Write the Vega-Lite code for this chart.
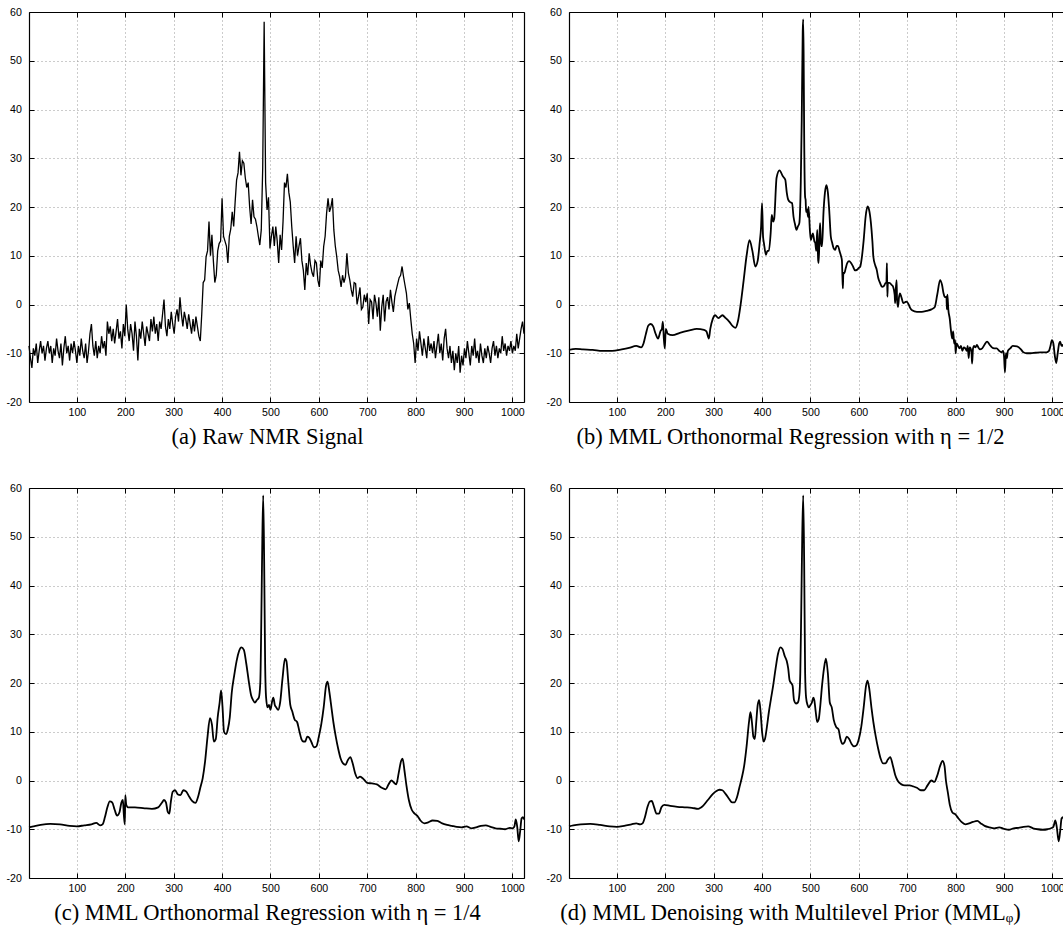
{
  "$schema": "https://vega.github.io/schema/vega-lite/v6.json",
  "background": "white",
  "padding": {"left": 6, "top": 7, "right": 0, "bottom": 0},
  "bounds": "flush",
  "columns": 2,
  "spacing": {"row": 86, "column": 45},
  "datasets": {
    "a": [
      {"x":1,"y":-8.5},{"x":4,"y":-11},{"x":7,"y":-13},{"x":10,"y":-9},{"x":13,"y":-10.5},{"x":16,"y":-8},{"x":19,"y":-12},{"x":22,"y":-9.5},{"x":25,"y":-7.5},{"x":28,"y":-10},{"x":31,"y":-8.5},{"x":34,"y":-11.5},{"x":37,"y":-9},{"x":40,"y":-7.5},{"x":43,"y":-10},{"x":46,"y":-8.5},{"x":49,"y":-12},{"x":52,"y":-9},{"x":55,"y":-10.5},{"x":58,"y":-7},{"x":61,"y":-9.5},{"x":64,"y":-11},{"x":67,"y":-8},{"x":70,"y":-12.5},{"x":73,"y":-9},{"x":76,"y":-6.5},{"x":79,"y":-10},{"x":82,"y":-8.5},{"x":85,"y":-11.5},{"x":88,"y":-8},{"x":91,"y":-10},{"x":94,"y":-7.5},{"x":97,"y":-9.5},{"x":100,"y":-12},{"x":103,"y":-8.5},{"x":106,"y":-10.5},{"x":109,"y":-7},{"x":112,"y":-9.5},{"x":115,"y":-11},{"x":118,"y":-8},{"x":121,"y":-12},{"x":124,"y":-9.5},{"x":127,"y":-6},{"x":130,"y":-4},{"x":133,"y":-8.5},{"x":136,"y":-10.5},{"x":139,"y":-7.5},{"x":142,"y":-11},{"x":145,"y":-8.5},{"x":148,"y":-10},{"x":151,"y":-6.5},{"x":154,"y":-9},{"x":157,"y":-7.5},{"x":160,"y":-10.5},
      {"x":163,"y":-3.5},{"x":166,"y":-6},{"x":169,"y":-4.5},{"x":172,"y":-7.5},{"x":175,"y":-5},{"x":178,"y":-8},{"x":181,"y":-5.5},{"x":184,"y":-3},{"x":187,"y":-7},{"x":190,"y":-5.5},{"x":193,"y":-9},{"x":196,"y":-4},{"x":199,"y":-6.5},{"x":202,"y":0},{"x":205,"y":-5},{"x":208,"y":-7.5},{"x":211,"y":-4},{"x":214,"y":-6},{"x":217,"y":-9.5},{"x":220,"y":-3.5},{"x":223,"y":-6.5},{"x":226,"y":-11.5},{"x":229,"y":-5},{"x":232,"y":-7},{"x":235,"y":-3.5},{"x":238,"y":-6},{"x":241,"y":-8.5},{"x":244,"y":-4.5},{"x":247,"y":-6},{"x":250,"y":-7.5},
      {"x":253,"y":-3},{"x":256,"y":-5.5},{"x":259,"y":-2.5},{"x":262,"y":-6},{"x":265,"y":-4},{"x":268,"y":-7.5},{"x":271,"y":-3.5},{"x":274,"y":-5},{"x":277,"y":-2},{"x":280,"y":1},{"x":283,"y":-4.5},{"x":286,"y":-6.5},{"x":289,"y":-3},{"x":292,"y":-5},{"x":295,"y":-1.5},{"x":298,"y":-4},{"x":301,"y":-6},{"x":304,"y":-2.5},{"x":307,"y":-1},{"x":310,"y":-3.5},{"x":313,"y":1.5},{"x":316,"y":-2},{"x":319,"y":-4.5},{"x":322,"y":-1.5},{"x":325,"y":-3},{"x":328,"y":-5},{"x":331,"y":-2},{"x":334,"y":-4},{"x":337,"y":-6},{"x":340,"y":-3},{"x":343,"y":-5.5},{"x":346,"y":-2.5},{"x":349,"y":-4.5},{"x":352,"y":-6.5},{"x":355,"y":-7.5},{"x":358,"y":-2},
      {"x":361,"y":4.5},{"x":364,"y":5},{"x":367,"y":9.8},{"x":370,"y":11},{"x":373,"y":17},{"x":376,"y":10},{"x":379,"y":14.3},{"x":382,"y":9},{"x":385,"y":4.5},{"x":388,"y":6},{"x":391,"y":11},{"x":394,"y":12.5},{"x":397,"y":13},{"x":400,"y":21.8},{"x":403,"y":14},{"x":406,"y":13},{"x":409,"y":12},{"x":412,"y":8.5},{"x":415,"y":14},{"x":418,"y":15.5},{"x":421,"y":19},{"x":424,"y":16},{"x":427,"y":21},{"x":430,"y":25.5},{"x":433,"y":27},{"x":436,"y":31.3},{"x":439,"y":26.5},{"x":442,"y":29.5},{"x":445,"y":29},{"x":448,"y":26},{"x":451,"y":24},{"x":454,"y":25},{"x":457,"y":20},{"x":460,"y":16.5},{"x":463,"y":21.5},{"x":466,"y":18},{"x":469,"y":17.5},{"x":472,"y":16},{"x":475,"y":14},{"x":478,"y":12.2},{"x":481,"y":15.3},{"x":484,"y":28},{"x":487,"y":58},{"x":490,"y":25},
      {"x":493,"y":19.4},{"x":496,"y":22},{"x":499,"y":11.5},{"x":502,"y":14},{"x":505,"y":16},{"x":508,"y":12},{"x":511,"y":16},{"x":514,"y":13},{"x":517,"y":8.5},{"x":520,"y":14.3},{"x":523,"y":11.2},{"x":526,"y":17},{"x":529,"y":25},{"x":532,"y":24},{"x":535,"y":26.8},{"x":538,"y":23},{"x":541,"y":21},{"x":544,"y":16},{"x":547,"y":12},{"x":550,"y":8.5},{"x":553,"y":14},{"x":556,"y":10},{"x":559,"y":12},{"x":562,"y":13.6},{"x":565,"y":9},{"x":568,"y":7},{"x":571,"y":3},{"x":574,"y":8.5},{"x":577,"y":6},{"x":580,"y":10.5},{"x":583,"y":8},{"x":586,"y":6.5},{"x":589,"y":5.7},{"x":592,"y":9},{"x":595,"y":8.5},{"x":598,"y":5},{"x":601,"y":3.6},{"x":604,"y":9},{"x":607,"y":7.5},{"x":610,"y":11.9},{"x":613,"y":14},{"x":616,"y":18.7},{"x":619,"y":21.8},{"x":622,"y":19},{"x":625,"y":20},{"x":628,"y":21.8},{"x":631,"y":15.3},{"x":634,"y":12},{"x":637,"y":9.8},{"x":640,"y":7},
      {"x":643,"y":5.7},{"x":646,"y":3.6},{"x":649,"y":6},{"x":652,"y":4.5},{"x":655,"y":5.7},{"x":658,"y":10.5},{"x":661,"y":6.5},{"x":664,"y":5},{"x":667,"y":3},{"x":670,"y":1.6},{"x":673,"y":4.5},{"x":676,"y":4.3},{"x":679,"y":0},{"x":682,"y":1.6},{"x":685,"y":3.5},{"x":688,"y":-1},{"x":691,"y":-0.5},{"x":694,"y":2},{"x":697,"y":0.5},{"x":700,"y":2.3},{"x":703,"y":-4},{"x":706,"y":1},{"x":709,"y":0.5},{"x":712,"y":-3},{"x":715,"y":2},{"x":718,"y":0.3},{"x":721,"y":-2.5},{"x":724,"y":1.5},{"x":727,"y":-5.4},{"x":730,"y":-0.5},{"x":733,"y":2},{"x":736,"y":-3.5},{"x":739,"y":0.6},{"x":742,"y":1.5},{"x":745,"y":-1},{"x":748,"y":3},{"x":751,"y":0.5},{"x":754,"y":-1.5},{"x":757,"y":1.6},{"x":760,"y":3},{"x":763,"y":4.3},{"x":766,"y":5.5},{"x":769,"y":6},{"x":772,"y":7.8},{"x":775,"y":5.7},{"x":778,"y":4},{"x":781,"y":2.3},{"x":784,"y":-1},{"x":787,"y":0.3},{"x":790,"y":-3},
      {"x":793,"y":-6},{"x":796,"y":-8},{"x":799,"y":-12},{"x":802,"y":-7},{"x":805,"y":-9.5},{"x":808,"y":-5.5},{"x":811,"y":-8},{"x":814,"y":-10.5},{"x":817,"y":-7},{"x":820,"y":-9},{"x":823,"y":-11},{"x":826,"y":-6.5},{"x":829,"y":-9.5},{"x":832,"y":-8},{"x":835,"y":-10},{"x":838,"y":-7.5},{"x":841,"y":-11},{"x":844,"y":-8.5},{"x":847,"y":-6},{"x":850,"y":-10},{"x":853,"y":-8},{"x":856,"y":-11.5},{"x":859,"y":-7},{"x":862,"y":-5},{"x":865,"y":-9},{"x":868,"y":-11},{"x":871,"y":-8.5},{"x":874,"y":-12},{"x":877,"y":-9.5},{"x":880,"y":-13.5},{"x":883,"y":-10},{"x":886,"y":-12},{"x":889,"y":-8.5},{"x":892,"y":-14},{"x":895,"y":-10.5},{"x":898,"y":-12.5},{"x":901,"y":-9},{"x":904,"y":-11},{"x":907,"y":-7.5},{"x":910,"y":-10},{"x":913,"y":-12.5},{"x":916,"y":-8.5},{"x":919,"y":-10.5},{"x":922,"y":-7},{"x":925,"y":-11},{"x":928,"y":-9.5},{"x":931,"y":-12},{"x":934,"y":-8},{"x":937,"y":-10.5},{"x":940,"y":-12},{"x":943,"y":-9},{"x":946,"y":-11},{"x":949,"y":-8.5},{"x":952,"y":-10},{"x":955,"y":-12},{"x":958,"y":-9},{"x":961,"y":-7.5},{"x":964,"y":-10.5},{"x":967,"y":-8.5},{"x":970,"y":-11},{"x":973,"y":-9},{"x":976,"y":-10},{"x":979,"y":-6.5},{"x":982,"y":-9.5},{"x":985,"y":-8},{"x":988,"y":-10.5},{"x":991,"y":-8.5},{"x":994,"y":-9.5},{"x":997,"y":-7.5},{"x":1000,"y":-10},{"x":1003,"y":-8.5},{"x":1006,"y":-9.5},{"x":1009,"y":-6},{"x":1012,"y":-9},{"x":1015,"y":-7},{"x":1018,"y":-5},{"x":1021,"y":-3.5},{"x":1024,"y":-6}
    ],
    "b": [
      {"x":1,"y":-9.3},{"x":15,"y":-9.1},{"x":30,"y":-9.2},{"x":50,"y":-9.3},{"x":70,"y":-9.5},{"x":90,"y":-9.5},{"x":110,"y":-9.2},{"x":125,"y":-8.9},{"x":140,"y":-8.5},{"x":150,"y":-8.8},{"x":155,"y":-8},{"x":160,"y":-6},{"x":165,"y":-4.3},{"x":170,"y":-4},{"x":175,"y":-4.5},{"x":180,"y":-6},{"x":185,"y":-7},{"x":190,"y":-5.5},{"x":193,"y":-5},{"x":195,"y":-3.5},{"x":197,"y":-7},{"x":199,"y":-9},{"x":201,"y":-5},{"x":205,"y":-6},{"x":215,"y":-6.3},{"x":230,"y":-5.8},{"x":250,"y":-5.3},{"x":265,"y":-5},{"x":280,"y":-5.2},{"x":285,"y":-5.5},{"x":290,"y":-7},{"x":293,"y":-5},{"x":298,"y":-3},{"x":303,"y":-2.2},{"x":310,"y":-2.8},{"x":318,"y":-2.2},{"x":325,"y":-2.8},{"x":332,"y":-3.5},{"x":340,"y":-4.5},{"x":345,"y":-4.8},{"x":350,"y":-3.5},{"x":355,"y":-0.5},{"x":362,"y":5},{"x":368,"y":10},{"x":374,"y":13.2},{"x":380,"y":11},{"x":386,"y":7.8},{"x":391,"y":9},{"x":395,"y":12.6},{"x":398,"y":16},{"x":400,"y":20.8},{"x":402,"y":14},{"x":404,"y":12.5},{"x":408,"y":10.2},{"x":411,"y":11},{"x":414,"y":11},{"x":418,"y":15},{"x":420,"y":18.4},{"x":423,"y":17},{"x":425,"y":17.5},{"x":430,"y":26},{"x":436,"y":27.5},{"x":443,"y":26.3},{"x":448,"y":25.6},{"x":451,"y":23},{"x":454,"y":21.5},{"x":458,"y":21},{"x":462,"y":20.8},{"x":465,"y":18},{"x":468,"y":16.5},{"x":471,"y":15.3},{"x":474,"y":16},{"x":477,"y":16.7},{"x":480,"y":25},{"x":482,"y":38},{"x":484,"y":56},{"x":485,"y":58.5},{"x":486,"y":50},{"x":487,"y":35},{"x":489,"y":22},{"x":490,"y":21.5},{"x":491,"y":19},{"x":493,"y":19.5},{"x":495,"y":18},{"x":496,"y":20},{"x":499,"y":15},{"x":501,"y":13.2},{"x":503,"y":14},{"x":505,"y":14.6},{"x":508,"y":13},{"x":510,"y":12.6},{"x":512,"y":11},{"x":514,"y":15.3},{"x":516,"y":9},{"x":517,"y":8.5},{"x":519,"y":15},{"x":520,"y":16.7},{"x":522,"y":12},{"x":524,"y":12},{"x":527,"y":19},{"x":530,"y":23},{"x":533,"y":24.5},{"x":536,"y":23},{"x":539,"y":19},{"x":542,"y":14},{"x":545,"y":12.6},{"x":548,"y":11.5},{"x":551,"y":11.2},{"x":554,"y":12},{"x":557,"y":12},{"x":560,"y":11},{"x":563,"y":10},{"x":565,"y":9.1},{"x":566,"y":6},{"x":567,"y":3.3},{"x":568,"y":6.5},{"x":570,"y":6.4},{"x":573,"y":7.5},{"x":576,"y":8.5},{"x":580,"y":8.9},{"x":584,"y":8.5},{"x":588,"y":7.8},{"x":592,"y":7},{"x":596,"y":7.1},{"x":600,"y":7.5},{"x":603,"y":7.8},{"x":606,"y":9.5},{"x":610,"y":13.2},{"x":614,"y":18},{"x":618,"y":20.1},{"x":621,"y":19.5},{"x":625,"y":16.7},{"x":628,"y":13},{"x":630,"y":9.8},{"x":634,"y":8},{"x":637,"y":7.1},{"x":640,"y":5.5},{"x":644,"y":4.4},{"x":648,"y":3.6},{"x":652,"y":3.8},{"x":655,"y":4.4},{"x":657,"y":4.5},{"x":658,"y":8.5},{"x":659,"y":1.6},{"x":660,"y":4.5},{"x":664,"y":4.4},{"x":668,"y":4},{"x":671,"y":3.6},{"x":674,"y":2},{"x":675,"y":0.3},{"x":676,"y":2.5},{"x":678,"y":5},{"x":679,"y":1},{"x":681,"y":-0.5},{"x":683,"y":1.5},{"x":685,"y":2.3},{"x":688,"y":1.5},{"x":692,"y":0.3},{"x":696,"y":0.5},{"x":699,"y":0.6},{"x":703,"y":0},{"x":706,"y":-0.7},{"x":710,"y":-1.2},{"x":720,"y":-1.5},{"x":730,"y":-1.5},{"x":740,"y":-1.3},{"x":750,"y":-1},{"x":757,"y":-0.5},{"x":762,"y":2},{"x":768,"y":5},{"x":772,"y":4},{"x":775,"y":2.3},{"x":778,"y":1.5},{"x":781,"y":1.6},{"x":782,"y":-1},{"x":783,"y":2},{"x":785,"y":-1.1},{"x":788,"y":-3},{"x":790,"y":-5},{"x":793,"y":-7},{"x":795,"y":-5.5},{"x":797,"y":-8},{"x":799,"y":-7.3},{"x":800,"y":-10},{"x":802,"y":-8},{"x":805,"y":-8.5},{"x":808,"y":-9},{"x":811,"y":-8.5},{"x":814,"y":-9.5},{"x":817,"y":-8.8},{"x":820,"y":-9},{"x":823,"y":-9.5},{"x":825,"y":-8.5},{"x":827,"y":-11},{"x":829,"y":-8.8},{"x":831,"y":-9},{"x":833,"y":-10},{"x":834,"y":-12.1},{"x":836,"y":-9},{"x":838,"y":-8.5},{"x":841,"y":-8.8},{"x":844,"y":-8.3},{"x":847,"y":-8.8},{"x":850,"y":-9.2},{"x":855,"y":-9},{"x":860,"y":-8.2},{"x":865,"y":-7.6},{"x":870,"y":-8.2},{"x":875,"y":-8.8},{"x":880,"y":-9},{"x":885,"y":-9},{"x":890,"y":-9.5},{"x":895,"y":-9.8},{"x":898,"y":-9.5},{"x":900,"y":-10.5},{"x":902,"y":-13.9},{"x":904,"y":-10},{"x":906,"y":-11},{"x":908,"y":-9.5},{"x":913,"y":-9},{"x":918,"y":-8.5},{"x":927,"y":-8.6},{"x":935,"y":-9.2},{"x":940,"y":-9.8},{"x":947,"y":-10},{"x":955,"y":-10},{"x":965,"y":-9.9},{"x":975,"y":-9.8},{"x":982,"y":-9.8},{"x":988,"y":-9.8},{"x":993,"y":-9.5},{"x":996,"y":-8.5},{"x":999,"y":-7.3},{"x":1002,"y":-8},{"x":1005,"y":-10.5},{"x":1008,"y":-12},{"x":1011,"y":-10},{"x":1014,"y":-8},{"x":1016,"y":-7.6},{"x":1019,"y":-8.5},{"x":1021,"y":-8.3},{"x":1024,"y":-8.8}
    ],
    "c": [
      {"x":1,"y":-9.6},{"x":10,"y":-9.4},{"x":25,"y":-9.1},{"x":45,"y":-8.9},{"x":65,"y":-9},{"x":85,"y":-9.3},{"x":100,"y":-9.4},{"x":115,"y":-9.2},{"x":130,"y":-9},{"x":140,"y":-8.7},{"x":148,"y":-9.2},{"x":153,"y":-9},{"x":158,"y":-7.5},{"x":163,"y":-5.5},{"x":168,"y":-4.3},{"x":173,"y":-4.5},{"x":178,"y":-6},{"x":183,"y":-7.2},{"x":188,"y":-6.5},{"x":192,"y":-4.5},{"x":195,"y":-4},{"x":197,"y":-7},{"x":199,"y":-9},{"x":200,"y":-3},{"x":202,"y":-5},{"x":206,"y":-5.5},{"x":220,"y":-5.5},{"x":240,"y":-5.7},{"x":255,"y":-5.8},{"x":268,"y":-5.5},{"x":276,"y":-4.5},{"x":280,"y":-4},{"x":284,"y":-4.5},{"x":288,"y":-6.5},{"x":291,"y":-6.8},{"x":294,"y":-4.5},{"x":298,"y":-2.3},{"x":303,"y":-2},{"x":308,"y":-2.8},{"x":314,"y":-3},{"x":320,"y":-2},{"x":326,"y":-2.3},{"x":332,"y":-3.3},{"x":338,"y":-4.2},{"x":345,"y":-4.6},{"x":350,"y":-3.5},{"x":355,"y":-1.5},{"x":360,"y":0.5},{"x":365,"y":4},{"x":370,"y":9},{"x":375,"y":12.8},{"x":379,"y":11.5},{"x":383,"y":8},{"x":387,"y":8.5},{"x":391,"y":13},{"x":395,"y":16},{"x":398,"y":18.5},{"x":401,"y":15},{"x":404,"y":10},{"x":408,"y":9.5},{"x":412,"y":10.5},{"x":416,"y":13},{"x":420,"y":18},{"x":425,"y":21.5},{"x":430,"y":24.5},{"x":435,"y":26.5},{"x":440,"y":27.3},{"x":445,"y":26.8},{"x":450,"y":24},{"x":455,"y":20.5},{"x":460,"y":17.5},{"x":464,"y":16.5},{"x":468,"y":16},{"x":472,"y":16.5},{"x":476,"y":17},{"x":479,"y":20},{"x":481,"y":32},{"x":483,"y":48},{"x":485,"y":58.5},{"x":487,"y":45},{"x":489,"y":24},{"x":491,"y":17},{"x":494,"y":15},{"x":497,"y":15.5},{"x":500,"y":14.5},{"x":503,"y":16},{"x":506,"y":17},{"x":509,"y":15.5},{"x":512,"y":15},{"x":516,"y":14.5},{"x":520,"y":16},{"x":525,"y":21},{"x":530,"y":25},{"x":533,"y":24.5},{"x":537,"y":20},{"x":541,"y":15.5},{"x":545,"y":14.2},{"x":550,"y":12.5},{"x":555,"y":12},{"x":560,"y":10},{"x":564,"y":8.5},{"x":568,"y":8},{"x":572,"y":8},{"x":576,"y":9},{"x":580,"y":8.8},{"x":585,"y":7.8},{"x":590,"y":6.8},{"x":595,"y":7},{"x":600,"y":9},{"x":605,"y":11.5},{"x":610,"y":15},{"x":615,"y":19.5},{"x":618,"y":20.3},{"x":622,"y":18},{"x":626,"y":15},{"x":630,"y":12},{"x":635,"y":9},{"x":640,"y":6.5},{"x":645,"y":4.5},{"x":650,"y":3.5},{"x":655,"y":3.2},{"x":660,"y":4.2},{"x":665,"y":4.8},{"x":670,"y":3.5},{"x":675,"y":1.5},{"x":680,"y":0.5},{"x":685,"y":0.8},{"x":690,"y":0.5},{"x":695,"y":0},{"x":700,"y":-0.5},{"x":710,"y":-0.6},{"x":720,"y":-0.8},{"x":730,"y":-1.5},{"x":738,"y":-1.8},{"x":744,"y":-0.8},{"x":750,"y":0},{"x":756,"y":-0.5},{"x":760,"y":-0.8},{"x":765,"y":1.5},{"x":770,"y":4},{"x":773,"y":4.5},{"x":777,"y":2},{"x":781,"y":-1},{"x":786,"y":-4},{"x":792,"y":-6},{"x":798,"y":-6.8},{"x":804,"y":-7.3},{"x":810,"y":-8.2},{"x":818,"y":-8.8},{"x":826,"y":-8.6},{"x":835,"y":-8.2},{"x":845,"y":-8.3},{"x":855,"y":-8.8},{"x":865,"y":-9.1},{"x":875,"y":-9.3},{"x":885,"y":-9.5},{"x":895,"y":-9.6},{"x":905,"y":-9.4},{"x":915,"y":-9.8},{"x":925,"y":-9.6},{"x":935,"y":-9.3},{"x":945,"y":-9.2},{"x":955,"y":-9.5},{"x":965,"y":-9.8},{"x":975,"y":-9.9},{"x":985,"y":-10},{"x":995,"y":-9.7},{"x":1000,"y":-9.8},{"x":1004,"y":-9.5},{"x":1007,"y":-8},{"x":1010,"y":-9.5},{"x":1013,"y":-12.5},{"x":1016,"y":-10.5},{"x":1019,"y":-7.8},{"x":1022,"y":-7.5},{"x":1024,"y":-8}
    ],
    "d": [
      {"x":1,"y":-9.4},{"x":10,"y":-9.2},{"x":25,"y":-9},{"x":45,"y":-8.9},{"x":65,"y":-9.1},{"x":85,"y":-9.4},{"x":100,"y":-9.5},{"x":115,"y":-9.3},{"x":130,"y":-9},{"x":140,"y":-8.8},{"x":148,"y":-9},{"x":153,"y":-8.8},{"x":158,"y":-7.5},{"x":163,"y":-5.5},{"x":168,"y":-4.3},{"x":172,"y":-4.2},{"x":177,"y":-5.5},{"x":182,"y":-6.8},{"x":187,"y":-6.8},{"x":192,"y":-5.5},{"x":198,"y":-5},{"x":210,"y":-5.2},{"x":225,"y":-5.4},{"x":240,"y":-5.5},{"x":255,"y":-5.6},{"x":268,"y":-5.8},{"x":278,"y":-5.2},{"x":288,"y":-4},{"x":298,"y":-2.8},{"x":305,"y":-2.2},{"x":312,"y":-1.9},{"x":318,"y":-2},{"x":325,"y":-2.8},{"x":332,"y":-3.8},{"x":338,"y":-4.5},{"x":343,"y":-4.5},{"x":348,"y":-3.5},{"x":353,"y":-1.5},{"x":358,"y":0.5},{"x":363,"y":3},{"x":368,"y":7},{"x":373,"y":12},{"x":376,"y":14},{"x":379,"y":12},{"x":382,"y":9},{"x":385,"y":8.5},{"x":388,"y":12},{"x":391,"y":15.5},{"x":394,"y":16.5},{"x":397,"y":14},{"x":400,"y":10},{"x":403,"y":8},{"x":406,"y":8.5},{"x":410,"y":11},{"x":414,"y":14},{"x":418,"y":16.5},{"x":423,"y":19.5},{"x":428,"y":23},{"x":433,"y":26},{"x":438,"y":27.3},{"x":442,"y":27},{"x":447,"y":25.5},{"x":451,"y":24.5},{"x":454,"y":23},{"x":457,"y":20.5},{"x":460,"y":20},{"x":463,"y":19.5},{"x":466,"y":16.5},{"x":470,"y":15.8},{"x":474,"y":16},{"x":477,"y":17.5},{"x":479,"y":22},{"x":481,"y":35},{"x":483,"y":50},{"x":485,"y":58.5},{"x":487,"y":45},{"x":489,"y":22},{"x":491,"y":17},{"x":494,"y":15.5},{"x":497,"y":15},{"x":500,"y":15.5},{"x":503,"y":16},{"x":506,"y":17},{"x":508,"y":16.5},{"x":511,"y":14},{"x":514,"y":12},{"x":517,"y":12.5},{"x":520,"y":15},{"x":524,"y":19.5},{"x":528,"y":23},{"x":532,"y":25},{"x":536,"y":22},{"x":540,"y":16},{"x":544,"y":15},{"x":548,"y":12.5},{"x":553,"y":11},{"x":558,"y":10.5},{"x":562,"y":8.5},{"x":566,"y":7.5},{"x":570,"y":7.8},{"x":575,"y":9},{"x":580,"y":8.5},{"x":585,"y":7.5},{"x":590,"y":7},{"x":595,"y":7.2},{"x":600,"y":8.5},{"x":605,"y":11},{"x":610,"y":15},{"x":615,"y":19.5},{"x":618,"y":20.5},{"x":622,"y":18.5},{"x":626,"y":15},{"x":630,"y":12},{"x":635,"y":9},{"x":640,"y":6.5},{"x":645,"y":4.5},{"x":650,"y":3.5},{"x":655,"y":3.5},{"x":660,"y":4.3},{"x":665,"y":4.8},{"x":670,"y":3.2},{"x":675,"y":1.2},{"x":680,"y":0},{"x":688,"y":-0.8},{"x":695,"y":-1},{"x":705,"y":-1},{"x":712,"y":-1.2},{"x":720,"y":-1.5},{"x":728,"y":-2},{"x":735,"y":-2},{"x":742,"y":-1},{"x":750,"y":0},{"x":756,"y":-0.3},{"x":762,"y":1},{"x":768,"y":3},{"x":773,"y":4},{"x":777,"y":3},{"x":780,"y":0},{"x":784,"y":-2.5},{"x":788,"y":-5},{"x":793,"y":-6.5},{"x":800,"y":-7},{"x":806,"y":-7.8},{"x":812,"y":-8.5},{"x":820,"y":-9},{"x":828,"y":-8.8},{"x":836,"y":-8.5},{"x":845,"y":-8.3},{"x":852,"y":-8.8},{"x":860,"y":-9.3},{"x":870,"y":-9.6},{"x":880,"y":-9.8},{"x":890,"y":-9.6},{"x":900,"y":-9.9},{"x":910,"y":-10.1},{"x":920,"y":-9.8},{"x":930,"y":-9.7},{"x":940,"y":-9.5},{"x":950,"y":-9.4},{"x":960,"y":-9.8},{"x":970,"y":-10},{"x":980,"y":-10.1},{"x":990,"y":-10},{"x":997,"y":-9.8},{"x":1002,"y":-9.5},{"x":1006,"y":-8.2},{"x":1009,"y":-9.5},{"x":1013,"y":-12.5},{"x":1016,"y":-10.5},{"x":1019,"y":-7.8},{"x":1022,"y":-7.5},{"x":1024,"y":-8}
    ]
  },
  "concat": [
    {
      "width": 495, "height": 390,
      "title": {"text": "(a) Raw NMR Signal", "dx": -9},
      "data": {"name": "a"},
      "layer": [
        {"mark": {"type": "line", "color": "black", "strokeWidth": 1.3},
         "encoding": {
           "x": {"field": "x", "type": "quantitative", "scale": {"domain": [1, 1024], "nice": false, "zero": false},
                 "axis": {"orient": "bottom", "values": [100,200,300,400,500,600,700,800,900,1000], "format": "d", "grid": true, "labelPadding": 10.5, "labelFlush": false}},
           "y": {"field": "y", "type": "quantitative", "scale": {"domain": [-20, 60], "nice": false, "zero": false},
                 "axis": {"orient": "left", "values": [-20,-10,0,10,20,30,40,50,60], "grid": true, "labelPadding": 12.6, "labelExpr": "datum.value < 0 ? '-' + abs(datum.value) : datum.label"}}
         }},
        {"mark": {"type": "line", "opacity": 0},
         "encoding": {
           "x": {"field": "x", "type": "quantitative", "axis": {"orient": "top", "values": [100,200,300,400,500,600,700,800,900,1000], "grid": false, "labels": false}},
           "y": {"field": "y", "type": "quantitative", "axis": {"orient": "right", "values": [-20,-10,0,10,20,30,40,50,60], "grid": false, "labels": false}}
         }}
      ],
      "resolve": {"axis": {"x": "independent", "y": "independent"}}
    },
    {
      "width": 495, "height": 390,
      "title": {"text": "(b) MML Orthonormal Regression with η = 1/2", "dx": -26},
      "data": {"name": "b"},
      "layer": [
        {"mark": {"type": "line", "color": "black", "strokeWidth": 1.8, "interpolate": "monotone"},
         "encoding": {
           "x": {"field": "x", "type": "quantitative", "scale": {"domain": [1, 1024], "nice": false, "zero": false},
                 "axis": {"orient": "bottom", "values": [100,200,300,400,500,600,700,800,900,1000], "format": "d", "grid": true, "labelPadding": 10.5, "labelFlush": false}},
           "y": {"field": "y", "type": "quantitative", "scale": {"domain": [-20, 60], "nice": false, "zero": false},
                 "axis": {"orient": "left", "values": [-20,-10,0,10,20,30,40,50,60], "grid": true, "labelPadding": 12.6, "labelExpr": "datum.value < 0 ? '-' + abs(datum.value) : datum.label"}}
         }},
        {"mark": {"type": "line", "opacity": 0},
         "encoding": {
           "x": {"field": "x", "type": "quantitative", "axis": {"orient": "top", "values": [100,200,300,400,500,600,700,800,900,1000], "grid": false, "labels": false}},
           "y": {"field": "y", "type": "quantitative", "axis": {"orient": "right", "values": [-20,-10,0,10,20,30,40,50,60], "grid": false, "labels": false}}
         }}
      ],
      "resolve": {"axis": {"x": "independent", "y": "independent"}}
    },
    {
      "width": 495, "height": 390,
      "title": {"text": "(c) MML Orthonormal Regression with η = 1/4", "dx": -9},
      "data": {"name": "c"},
      "layer": [
        {"mark": {"type": "line", "color": "black", "strokeWidth": 1.8, "interpolate": "monotone"},
         "encoding": {
           "x": {"field": "x", "type": "quantitative", "scale": {"domain": [1, 1024], "nice": false, "zero": false},
                 "axis": {"orient": "bottom", "values": [100,200,300,400,500,600,700,800,900,1000], "format": "d", "grid": true, "labelPadding": 10.5, "labelFlush": false}},
           "y": {"field": "y", "type": "quantitative", "scale": {"domain": [-20, 60], "nice": false, "zero": false},
                 "axis": {"orient": "left", "values": [-20,-10,0,10,20,30,40,50,60], "grid": true, "labelPadding": 12.6, "labelExpr": "datum.value < 0 ? '-' + abs(datum.value) : datum.label"}}
         }},
        {"mark": {"type": "line", "opacity": 0},
         "encoding": {
           "x": {"field": "x", "type": "quantitative", "axis": {"orient": "top", "values": [100,200,300,400,500,600,700,800,900,1000], "grid": false, "labels": false}},
           "y": {"field": "y", "type": "quantitative", "axis": {"orient": "right", "values": [-20,-10,0,10,20,30,40,50,60], "grid": false, "labels": false}}
         }}
      ],
      "resolve": {"axis": {"x": "independent", "y": "independent"}}
    },
    {
      "width": 495, "height": 390,
      "title": {"text": "(d) MML Denoising with Multilevel Prior (MMLᵩ)", "dx": -26},
      "data": {"name": "d"},
      "layer": [
        {"mark": {"type": "line", "color": "black", "strokeWidth": 1.8, "interpolate": "monotone"},
         "encoding": {
           "x": {"field": "x", "type": "quantitative", "scale": {"domain": [1, 1024], "nice": false, "zero": false},
                 "axis": {"orient": "bottom", "values": [100,200,300,400,500,600,700,800,900,1000], "format": "d", "grid": true, "labelPadding": 10.5, "labelFlush": false}},
           "y": {"field": "y", "type": "quantitative", "scale": {"domain": [-20, 60], "nice": false, "zero": false},
                 "axis": {"orient": "left", "values": [-20,-10,0,10,20,30,40,50,60], "grid": true, "labelPadding": 12.6, "labelExpr": "datum.value < 0 ? '-' + abs(datum.value) : datum.label"}}
         }},
        {"mark": {"type": "line", "opacity": 0},
         "encoding": {
           "x": {"field": "x", "type": "quantitative", "axis": {"orient": "top", "values": [100,200,300,400,500,600,700,800,900,1000], "grid": false, "labels": false}},
           "y": {"field": "y", "type": "quantitative", "axis": {"orient": "right", "values": [-20,-10,0,10,20,30,40,50,60], "grid": false, "labels": false}}
         }}
      ],
      "resolve": {"axis": {"x": "independent", "y": "independent"}}
    }
  ],
  "config": {
    "view": {"stroke": null},
    "axis": {
      "title": null,
      "labelFont": "Liberation Sans",
      "labelFontSize": 10.6,
      "labelColor": "black",
      "tickColor": "black",
      "tickSize": -5,
      "tickWidth": 1,
      "domainColor": "black",
      "domainWidth": 1.2,
      "gridColor": "#999999",
      "gridDash": [1, 3],
      "gridWidth": 1
    },
    "title": {
      "orient": "bottom",
      "font": "Liberation Serif",
      "fontSize": 22.5,
      "fontWeight": "normal",
      "color": "black",
      "anchor": "middle",
      "offset": 8
    }
  }
}
